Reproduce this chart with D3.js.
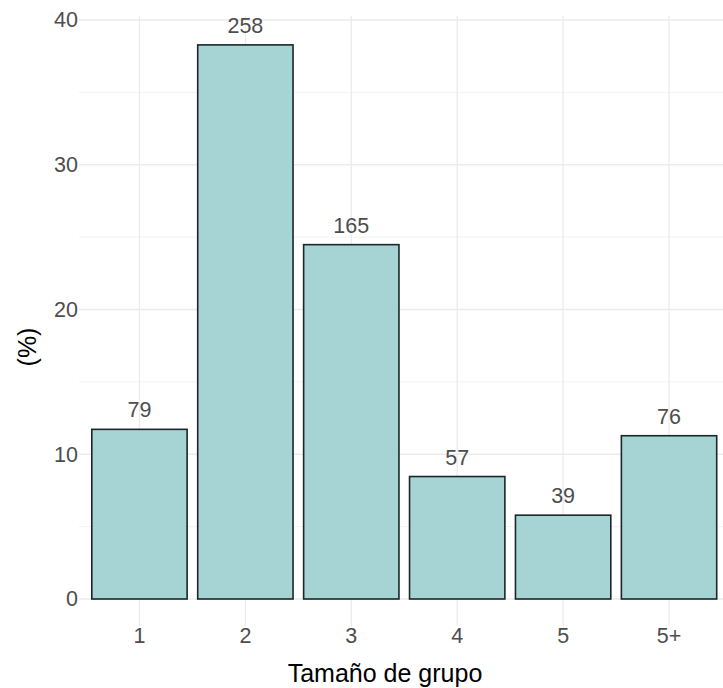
<!DOCTYPE html>
<html>
<head>
<meta charset="utf-8">
<script src="https://cdn.jsdelivr.net/npm/d3@7"></script>
<style>
  html, body { margin: 0; padding: 0; background: #ffffff; }
  svg { display: block; font-family: "Liberation Sans", Arial, sans-serif; }
</style>
</head>
<body>
<svg id="chart" width="723" height="688"></svg>
<script>
// Group sizes, share of groups (%) and number of groups per size
const categories = ["1", "2", "3", "4", "5", "5+"];
const percentages = [11.72, 38.28, 24.48, 8.46, 5.79, 11.28];
const counts = [79, 258, 165, 57, 39, 76];
const yTicks = [0, 10, 20, 30, 40];
const yMinorTicks = [5, 15, 25, 35];

const svg = d3.select("#chart");

const panel = { left: 79, right: 723, top: 16, bottom: 626 };

const x = d3.scaleBand()
  .domain(categories)
  .range([86.5, 722])
  .paddingInner(0.1)
  .paddingOuter(0.05);

const y = d3.scaleLinear()
  .domain([0, 40])
  .range([599, 20]);

const grid = svg.append("g");

// minor horizontal grid
grid.selectAll("line.minor")
  .data(yMinorTicks)
  .join("line")
  .attr("x1", panel.left).attr("x2", panel.right)
  .attr("y1", d => y(d)).attr("y2", d => y(d))
  .attr("stroke", "#f2f2f2").attr("stroke-width", 1);

// major horizontal grid
grid.selectAll("line.majorY")
  .data(yTicks)
  .join("line")
  .attr("x1", panel.left).attr("x2", panel.right)
  .attr("y1", d => y(d)).attr("y2", d => y(d))
  .attr("stroke", "#ebebeb").attr("stroke-width", 1.3);

// vertical grid at category centres
grid.selectAll("line.majorX")
  .data(categories)
  .join("line")
  .attr("x1", d => x(d) + x.bandwidth() / 2).attr("x2", d => x(d) + x.bandwidth() / 2)
  .attr("y1", panel.top).attr("y2", panel.bottom)
  .attr("stroke", "#ebebeb").attr("stroke-width", 1.3);

// bars
svg.append("g")
  .selectAll("rect")
  .data(categories)
  .join("rect")
  .attr("x", d => x(d))
  .attr("width", x.bandwidth())
  .attr("y", (d, i) => y(percentages[i]))
  .attr("height", (d, i) => y(0) - y(percentages[i]))
  .attr("fill", "#a6d4d4")
  .attr("stroke", "#1c2626")
  .attr("stroke-width", 1.6);

// count labels above bars
svg.append("g")
  .selectAll("text")
  .data(categories)
  .join("text")
  .attr("x", d => x(d) + x.bandwidth() / 2)
  .attr("y", (d, i) => y(percentages[i]) - 12)
  .attr("text-anchor", "middle")
  .attr("font-size", 21.5)
  .attr("fill", "#4d4d4d")
  .text((d, i) => counts[i]);

// y axis
const yAxis = svg.append("g")
  .attr("transform", `translate(${panel.left - 1},0)`)
  .call(d3.axisLeft(y).tickValues(yTicks).tickSize(0).tickPadding(0));
yAxis.select(".domain").remove();
yAxis.selectAll("text")
  .attr("font-size", 21.5)
  .attr("fill", "#4d4d4d")
  .attr("font-family", "'Liberation Sans', Arial, sans-serif");

// x axis
const xAxis = svg.append("g")
  .attr("transform", `translate(0,${panel.bottom})`)
  .call(d3.axisBottom(x).tickSize(0).tickPadding(0));
xAxis.select(".domain").remove();
xAxis.selectAll("text")
  .attr("dy", "0")
  .attr("y", 17)
  .attr("font-size", 21.5)
  .attr("fill", "#4d4d4d")
  .attr("font-family", "'Liberation Sans', Arial, sans-serif");

// axis titles
svg.append("text")
  .attr("x", 385)
  .attr("y", 682)
  .attr("text-anchor", "middle")
  .attr("font-size", 25)
  .attr("fill", "#000000")
  .text("Tamaño de grupo");

svg.append("text")
  .attr("transform", "translate(36,347) rotate(-90)")
  .attr("text-anchor", "middle")
  .attr("font-size", 25)
  .attr("fill", "#000000")
  .text("(%)");
</script>
</body>
</html>
